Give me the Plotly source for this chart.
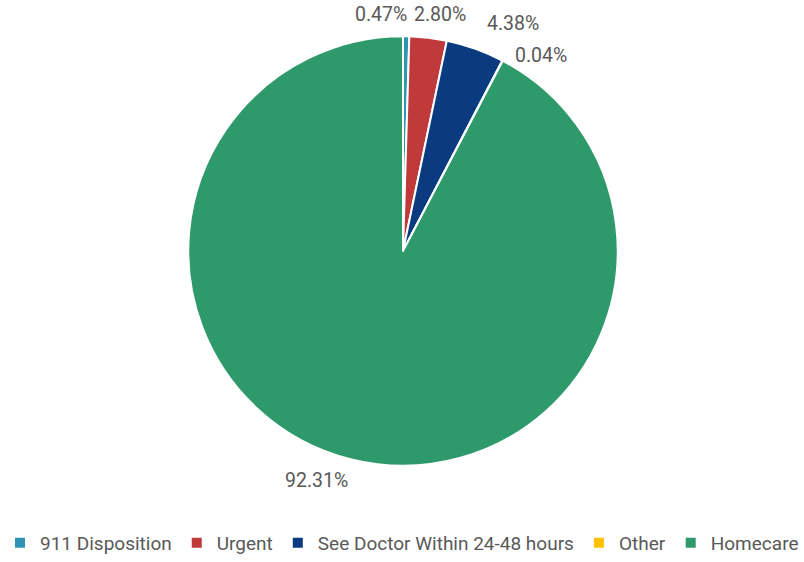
import math
import plotly.graph_objects as go

labels = ["911 Disposition", "Urgent", "See Doctor Within 24-48 hours", "Other", "Homecare"]
values = [0.47, 2.80, 4.38, 0.04, 92.31]
colors = ["#2E96B4", "#C0393B", "#0A3A80", "#FFC000", "#2E9A6C"]

# label placement tweaks (anchor, radial gap px, x nudge px, y nudge px)
label_style = [
    ("right", 22, 2.5, 0),
    ("center", 22, 9, -1.5),
    ("left", 22, 2, -5),
    ("left", 22, 0, 15),
    ("right", 22, 4, 6),
]

W, H = 804, 562
cx, cy, r = 403, 253, 216
# plotly draws the pie ~3px inside its domain and ~3px above its centre
dom_r, dom_cy = r + 3, cy + 3

fig = go.Figure(go.Pie(
    labels=labels,
    values=values,
    sort=False,
    direction="clockwise",
    rotation=0,
    marker=dict(colors=colors, line=dict(color="white", width=2)),
    textinfo="none",
    hoverinfo="label+percent",
    automargin=False,
    domain=dict(x=[(cx - dom_r) / W, (cx + dom_r) / W],
                y=[1 - (dom_cy + dom_r) / H, 1 - (dom_cy - dom_r) / H]),
    showlegend=True,
))

total = sum(values)
cum = 0.0
annotations = []
for v, (anchor, gap, dx, dy) in zip(values, label_style):
    mid = (cum + v / 2) / total * 2 * math.pi
    cum += v
    px = cx + (r + gap) * math.sin(mid) + dx
    py = cy - (r + gap) * math.cos(mid) + dy
    annotations.append(dict(
        x=px / W, y=1 - py / H, xref="paper", yref="paper",
        xanchor=anchor, yanchor="middle", showarrow=False,
        text=f"{v / total * 100:.2f}%",
        font=dict(size=19.5, color="#595959"),
    ))

fig.update_layout(
    width=W, height=H,
    margin=dict(l=0, r=0, t=0, b=0),
    paper_bgcolor="white",
    font=dict(family="Roboto, Open Sans, sans-serif", color="#595959"),
    annotations=annotations,
    legend=dict(
        orientation="h",
        x=0.5, xanchor="center",
        y=1 - 554 / H, yanchor="middle",
        font=dict(size=19, color="#595959"),
    ),
)

fig.write_html("out.html")
